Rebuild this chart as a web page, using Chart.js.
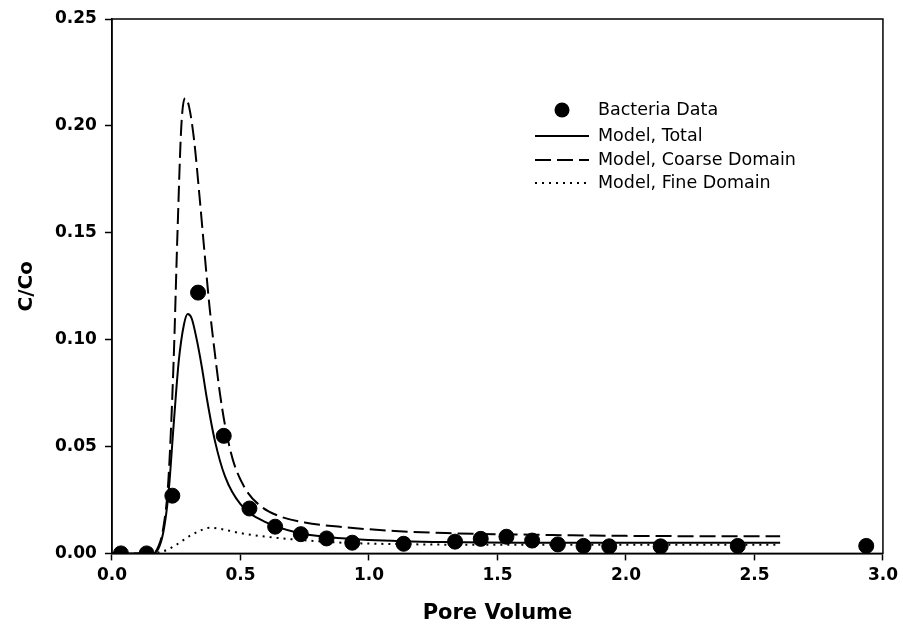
<!DOCTYPE html>
<html lang="en">
<head>
<meta charset="UTF-8">
<title>Bacteria breakthrough</title>
<style>
  html, body { margin: 0; padding: 0; background: #fff; }
  canvas { display: block; }
</style>
</head>
<body>
<canvas id="myChart" width="903" height="631"></canvas>
<script src="https://cdn.jsdelivr.net/npm/chart.js"></script>
<script>
// measured bacteria data (pore volume, C/Co)
const dataPV = [0.035, 0.135, 0.235, 0.335, 0.435, 0.535, 0.635, 0.735, 0.835, 0.935, 1.135,
                1.335, 1.435, 1.535, 1.635, 1.735, 1.835, 1.935, 2.135, 2.435, 2.935];
const dataC  = [0, 0, 0.027, 0.122, 0.055, 0.021, 0.0125, 0.009, 0.007, 0.005, 0.0045,
                0.0055, 0.0068, 0.0078, 0.006, 0.0042, 0.0035, 0.0033, 0.0033, 0.0035, 0.0035];

// model, total
const totalPV = [0, 0.16, 0.18, 0.20, 0.22, 0.24, 0.26, 0.28, 0.295, 0.31, 0.33, 0.35, 0.37, 0.40,
                 0.44, 0.50, 0.60, 0.72, 0.85, 1.0, 1.3, 1.6, 2.0, 2.6];
const totalC  = [0, 0, 0.002, 0.01, 0.028, 0.06, 0.09, 0.107, 0.112, 0.11, 0.1, 0.087, 0.072, 0.053,
                 0.036, 0.023, 0.0145, 0.0098, 0.0075, 0.0063, 0.0053, 0.005, 0.005, 0.005];

// model, coarse domain
const coarsePV = [0, 0.16, 0.18, 0.20, 0.22, 0.24, 0.255, 0.27, 0.285, 0.30, 0.32, 0.34, 0.36, 0.38,
                  0.40, 0.42, 0.44, 0.47, 0.52, 0.58, 0.65, 0.75, 0.90, 1.10, 1.30, 1.60, 2.00, 2.60];
const coarseC  = [0, 0, 0.003, 0.012, 0.035, 0.09, 0.15, 0.2, 0.213, 0.209, 0.193, 0.168, 0.141, 0.115,
                  0.094, 0.075, 0.06, 0.044, 0.03, 0.022, 0.0175, 0.0145, 0.0123, 0.0105, 0.0095, 0.0088, 0.0082, 0.008];

// model, fine domain
const finePV = [0.15, 0.20, 0.25, 0.30, 0.35, 0.38, 0.42, 0.50, 0.60, 0.72, 0.90, 1.2, 1.6, 2.0, 2.6];
const fineC  = [0, 0.001, 0.004, 0.008, 0.011, 0.012, 0.0115, 0.0095, 0.0078, 0.0064, 0.005, 0.0042, 0.004, 0.004, 0.004];

const xTicks = [0, 0.5, 1.0, 1.5, 2.0, 2.5, 3.0];
const yTicks = [0, 0.05, 0.10, 0.15, 0.20, 0.25];

const toXY = (xs, ys) => xs.map((x, i) => ({ x: x, y: ys[i] }));

// box around the plot area
const framePlugin = {
  id: 'frame',
  beforeDatasetsDraw(chart) {
    const { ctx, chartArea: a } = chart;
    ctx.save();
    ctx.strokeStyle = '#000';
    ctx.lineWidth = 1.5;
    ctx.strokeRect(a.left, a.top, a.right - a.left, a.bottom - a.top);
    ctx.restore();
  }
};

// legend drawn inside the plot
const legendPlugin = {
  id: 'insideLegend',
  afterDraw(chart) {
    const ctx = chart.ctx;
    const rows = [110, 136, 160, 183];
    ctx.save();
    ctx.font = '17.5px "DejaVu Sans"';
    ctx.textBaseline = 'middle';
    ctx.fillStyle = '#000';
    chart.data.datasets.forEach((ds, i) => {
      const y = rows[i];
      if (ds.showLine) {
        ctx.beginPath();
        ctx.setLineDash(ds.borderDash || []);
        ctx.lineWidth = ds.borderWidth;
        ctx.strokeStyle = '#000';
        ctx.moveTo(535, y);
        ctx.lineTo(589, y);
        ctx.stroke();
      } else {
        ctx.beginPath();
        ctx.arc(562, y, ds.pointRadius, 0, Math.PI * 2);
        ctx.fill();
      }
      ctx.setLineDash([]);
      ctx.fillText(ds.label, 598, y);
    });
    ctx.restore();
  }
};

const ctx = document.getElementById('myChart');

new Chart(ctx, {
  type: 'scatter',
  data: {
    datasets: [{
      label: 'Bacteria Data',
      data: toXY(dataPV, dataC),
      backgroundColor: '#000',
      borderColor: '#000',
      pointRadius: 7.5,
      pointHoverRadius: 7.5
    }, {
      label: 'Model, Total',
      data: toXY(totalPV, totalC),
      showLine: true,
      borderColor: '#000',
      borderWidth: 2,
      pointRadius: 0,
      cubicInterpolationMode: 'monotone'
    }, {
      label: 'Model, Coarse Domain',
      data: toXY(coarsePV, coarseC),
      showLine: true,
      borderColor: '#000',
      borderWidth: 2,
      borderDash: [16, 6],
      pointRadius: 0,
      cubicInterpolationMode: 'monotone'
    }, {
      label: 'Model, Fine Domain',
      data: toXY(finePV, fineC),
      showLine: true,
      borderColor: '#000',
      borderWidth: 2,
      borderDash: [2, 5],
      pointRadius: 0,
      cubicInterpolationMode: 'monotone'
    }]
  },
  options: {
    responsive: false,
    animation: false,
    layout: { padding: { left: 15, right: 14, top: 19, bottom: 5 } },
    plugins: {
      legend: { display: false },
      tooltip: { enabled: false }
    },
    scales: {
      x: {
        type: 'linear',
        min: 0,
        max: 3,
        afterBuildTicks: (axis) => { axis.ticks = xTicks.map(v => ({ value: v })); },
        ticks: {
          color: '#000',
          padding: 5,
          maxRotation: 0,
          font: { family: '"DejaVu Sans"', weight: 'bold', size: 17 },
          callback: (v) => Number(v).toFixed(1)
        },
        grid: { drawOnChartArea: false, drawTicks: true, tickLength: 7, tickColor: '#000', tickWidth: 1.5 },
        border: { display: true, color: '#000', width: 1.5 },
        title: {
          display: true,
          text: 'Pore Volume',
          color: '#000',
          padding: { top: 10, bottom: 0 },
          font: { family: '"DejaVu Sans"', weight: 'bold', size: 21 }
        }
      },
      y: {
        min: 0,
        max: 0.25,
        afterBuildTicks: (axis) => { axis.ticks = yTicks.map(v => ({ value: v })); },
        ticks: {
          color: '#000',
          padding: 8,
          font: { family: '"DejaVu Sans"', weight: 'bold', size: 17 },
          callback: (v) => Number(v).toFixed(2)
        },
        grid: { drawOnChartArea: false, drawTicks: true, tickLength: 7, tickColor: '#000', tickWidth: 1.5 },
        border: { display: true, color: '#000', width: 1.5 },
        title: {
          display: true,
          text: 'C/Co',
          color: '#000',
          padding: { top: 0, bottom: 8 },
          font: { family: '"DejaVu Sans"', weight: 'bold', size: 20 }
        }
      }
    }
  },
  plugins: [framePlugin, legendPlugin]
});
</script>
</body>
</html>
